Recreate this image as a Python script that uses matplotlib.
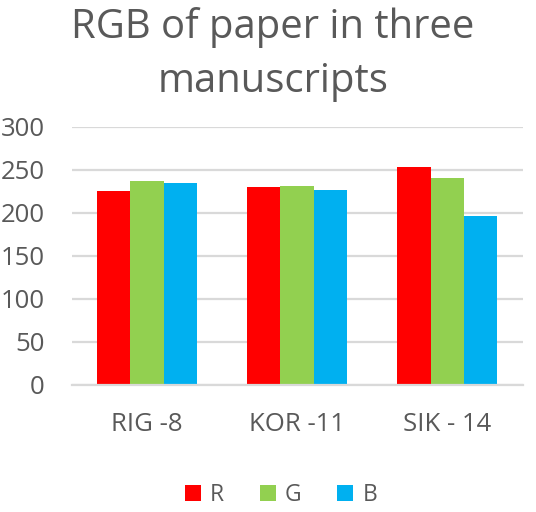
import matplotlib
matplotlib.use("Agg")
import matplotlib.pyplot as plt
import numpy as np
from matplotlib.patches import Patch

categories = ["RIG -8", "KOR -11", "SIK - 14"]
series_names = ["R", "G", "B"]
R_values = [225, 230, 253]
G_values = [237, 231, 241]
B_values = [235, 227, 196]
colors = ["#FF0000", "#92D050", "#00B0F0"]
yticks = [0, 50, 100, 150, 200, 250, 300]

plt.rcParams['font.family'] = ['Open Sans', 'DejaVu Sans']
txt = "#595959"

fig = plt.figure(figsize=(5.36, 5.12), dpi=100)
ax = fig.add_axes([71.7/536, 1-384.5/512, (522.5-71.7)/536, (384.5-127)/512])

x = np.arange(len(categories))
w = 0.222
for i, (vals, c) in enumerate(zip([R_values, G_values, B_values], colors)):
    ax.bar(x + (i-1)*w, vals, width=w, color=c, zorder=3, linewidth=0)

ax.set_xlim(-0.5, 2.5)
ax.set_ylim(0, 300)
ax.set_yticks(yticks)
ax.set_yticklabels([str(v) for v in yticks])
ax.set_xticks(x)
ax.set_xticklabels(categories)
ax.tick_params(axis='y', length=0, pad=19.5, labelsize=18.5, labelcolor=txt)
for lbl in ax.get_yticklabels():
    lbl.set_va('center_baseline')
ax.tick_params(axis='x', length=0, pad=20, labelsize=18.5, labelcolor=txt)
ax.grid(axis='y', color="#D9D9D9", linewidth=1.6, zorder=0)
for s in ['top', 'right', 'left']:
    ax.spines[s].set_visible(False)
ax.spines['bottom'].set_color("#D9D9D9")
ax.spines['bottom'].set_linewidth(1.6)
ax.spines['bottom'].set_zorder(4)

fig.text(273/536, 1-37.5/512, "RGB of paper in three", ha='center', va='baseline',
         fontsize=28.8, color=txt)
fig.text(273/536, 1-92/512, "manuscripts", ha='center', va='baseline',
         fontsize=28.8, color=txt)

handles = [Patch(facecolor=c, edgecolor='none') for c in colors]
fig.legend(handles, series_names, loc='center', bbox_to_anchor=(281/536, 1-495/512),
           ncol=3, frameon=False, fontsize=16.5, labelcolor=txt,
           handlelength=0.7, handleheight=0.7, handletextpad=0.4, columnspacing=1.55)

fig.savefig("out.png", dpi=100)
